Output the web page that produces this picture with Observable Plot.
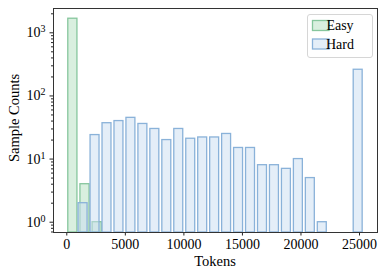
<!DOCTYPE html>
<html><head><meta charset="utf-8">
<script src="https://cdn.jsdelivr.net/npm/d3@7"></script>
<script src="https://cdn.jsdelivr.net/npm/@observablehq/plot@0.6"></script>
<style>body{margin:0;background:#fff}</style>
</head><body><div id="chart"></div>
<script>
const groups = ["Easy", "Hard"];
const easyBinStart = [0, 1037, 2074];
const easyBinWidth = 1037;
const easyCounts = [1672, 4, 1];
const hardBinStart = [880, 1902, 2923, 3945, 4966, 5988, 7009, 8031, 9052, 10074, 11095, 12117, 13138, 14160, 15181, 16203, 17224, 18246, 19267, 20289, 21310, 22332, 23353, 24375];
const hardBinWidth = 1021.5;
const hardCounts = [2, 24, 37, 40, 45, 36, 30, 20, 30, 21, 22, 22, 25, 15, 15, 8, 8, 7, 10, 5, 1, 0, 0, 260];
const xTicks = [0, 5000, 10000, 15000, 20000, 25000];
const yTicks = [1, 10, 100, 1000];
const xLabel = "Tokens";
const yLabel = "Sample Counts";

const xDomain = [-1135, 26536];
const yDomain = [0.687, 2427];
const colors = {Easy: {fill: "#b3e0c0", stroke: "#86c69d"}, Hard: {fill: "#c9ddf1", stroke: "#8ab2d9"}};
const font = "Liberation Serif, Times New Roman, serif";

const easy = easyBinStart.map((s, i) => ({x1: s, x2: s + easyBinWidth, count: easyCounts[i]})).filter(d => d.count > 0);
const hard = hardBinStart.map((s, i) => ({x1: s, x2: s + hardBinWidth, count: hardCounts[i]})).filter(d => d.count > 0);
const minorTicks = d3.scaleLog().domain(yDomain).ticks().filter(t => !yTicks.some(m => Math.abs(m - t) < 1e-9));

const barOpts = (g) => ({x1: "x1", x2: "x2", y1: () => yDomain[0], y2: "count",
  fill: colors[g].fill, fillOpacity: 0.5, stroke: colors[g].stroke, strokeWidth: 1.3,
  insetLeft: 1.5, insetRight: 1.5});

const chart = Plot.plot({
  width: 389, height: 278,
  marginLeft: 53, marginRight: 12, marginTop: 8, marginBottom: 46,
  style: {fontFamily: font, fontSize: "14px", color: "#000", background: "#fff"},
  x: {domain: xDomain},
  y: {type: "log", domain: yDomain},
  marks: [
    Plot.rect(easy, barOpts("Easy")),
    Plot.rect(hard, barOpts("Hard")),
    Plot.axisX({ticks: xTicks, tickSize: 3.5, tickPadding: 3.5, label: null, tickFormat: d => String(d), fontSize: 14, stroke: "#222"}),
    Plot.axisY({ticks: yTicks, tickSize: 3.5, tickPadding: 4.5, label: null, tickFormat: d => "10|" + Math.round(Math.log10(d)), fontSize: 14, stroke: "#222"}),
    Plot.axisY({ticks: minorTicks, tickSize: 2, label: null, tickFormat: () => "", stroke: "#222"}),
    Plot.frame({stroke: "#333", strokeWidth: 1})
  ]
});
document.getElementById("chart").appendChild(chart);

const svg = d3.select(chart);
// superscript exponents on the log axis labels
svg.selectAll("text").each(function() {
  const t = this.textContent;
  if (/^10\|\d$/.test(t)) {
    const exp = t.split("|")[1];
    const el = d3.select(this);
    el.text("10");
    el.append("tspan").attr("dy", "-0.5em").attr("font-size", "10px").text(exp);
  }
});

// axis labels
svg.append("text").attr("x", 215).attr("y", 266).attr("text-anchor", "middle")
  .attr("font-family", font).attr("font-size", "14.5px").attr("fill", "#000").text(xLabel);
svg.append("text").attr("transform", "translate(18.5,118) rotate(-90)").attr("text-anchor", "middle")
  .attr("font-family", font).attr("font-size", "14.5px").attr("fill", "#000").text(yLabel);

// legend
const lg = svg.append("g");
lg.append("rect").attr("x", 307.5).attr("y", 14.5).attr("width", 65).attr("height", 43).attr("rx", 2.5)
  .attr("fill", "#fff").attr("fill-opacity", 0.85).attr("stroke", "#d6d6d6").attr("stroke-width", 1);
groups.forEach((g, i) => {
  const y0 = 20.5 + i * 18.5;
  lg.append("rect").attr("x", 312.5).attr("y", y0).attr("width", 16.5).attr("height", 10)
    .attr("fill", colors[g].fill).attr("fill-opacity", 0.5).attr("stroke", colors[g].stroke).attr("stroke-width", 1.3);
  lg.append("text").attr("x", 340).attr("y", y0 + 9.5).attr("font-family", font).attr("font-size", "14px")
    .attr("fill", "#000").text(g);
});
</script>
</body></html>
